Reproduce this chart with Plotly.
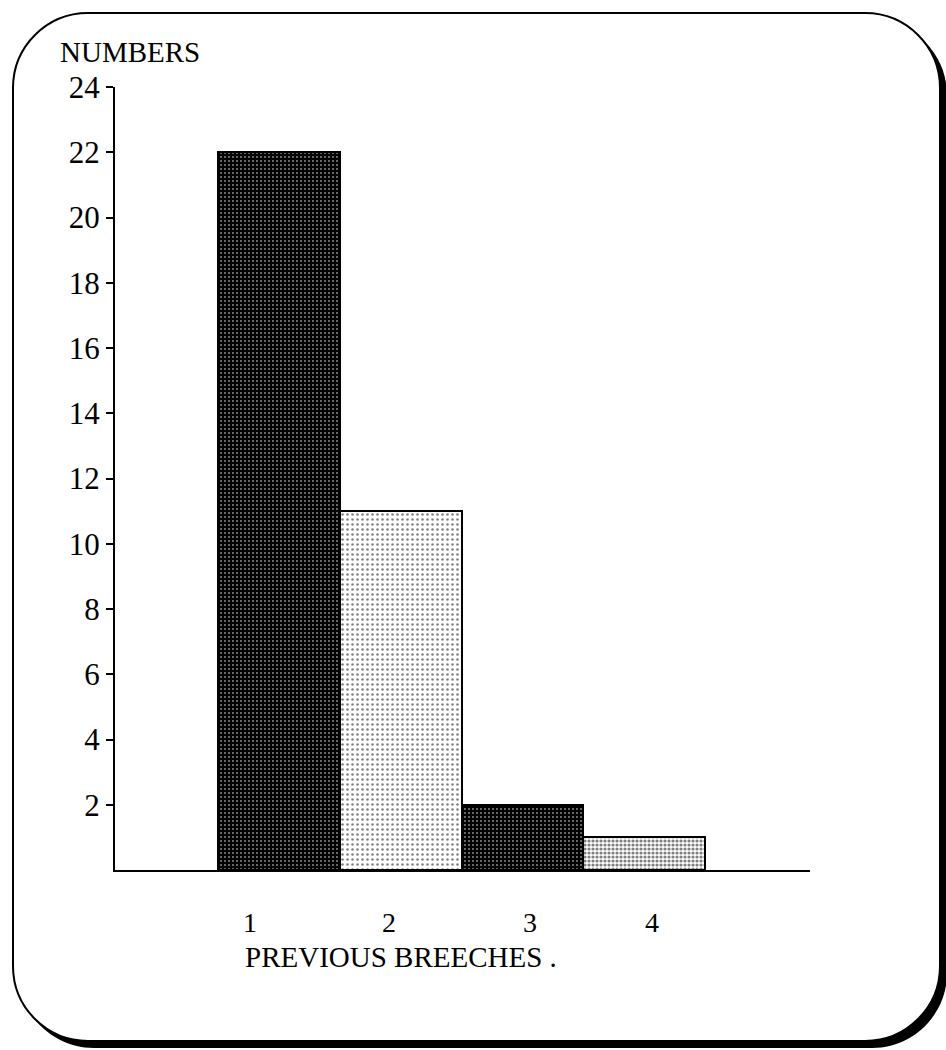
import plotly.graph_objects as go

# Data
categories = [1, 2, 3, 4]
numbers = [22, 11, 2, 1]
tick_values = [2, 4, 6, 8, 10, 12, 14, 16, 18, 20, 22, 24]
category_labels = ["1", "2", "3", "4"]
label_shift_px = [-29, -12, 8, 8]

W, H = 946, 1050
L, R, T, B = 115, 810, 87, 870  # plot area in pixels

def px(x):
    return (x - L) / (R - L)

def py(y):
    return (B - y) / (B - T)

def rounded_rect_path(x0, y0, x1, y1, r):
    k = 0.5523 * r
    pts = [
        ("M", [(x0 + r, y0)]),
        ("L", [(x1 - r, y0)]),
        ("C", [(x1 - r + k, y0), (x1, y0 + r - k), (x1, y0 + r)]),
        ("L", [(x1, y1 - r)]),
        ("C", [(x1, y1 - r + k), (x1 - r + k, y1), (x1 - r, y1)]),
        ("L", [(x0 + r, y1)]),
        ("C", [(x0 + r - k, y1), (x0, y1 - r + k), (x0, y1 - r)]),
        ("L", [(x0, y0 + r)]),
        ("C", [(x0, y0 + r - k), (x0 + r - k, y0), (x0 + r, y0)]),
    ]
    s = ""
    for cmd, ps in pts:
        s += cmd + " " + " ".join(f"{px(a):.5f},{py(b):.5f}" for a, b in ps) + " "
    return s + "Z"

# bar fill textures: dark, light, dark, medium
patterns = [
    dict(shape=".", bgcolor="black", fgcolor="white", size=4, solidity=0.22),
    dict(shape=".", bgcolor="white", fgcolor="black", size=5, solidity=0.2),
    dict(shape=".", bgcolor="black", fgcolor="white", size=4, solidity=0.22),
    dict(shape=".", bgcolor="white", fgcolor="black", size=4, solidity=0.5),
]
fills = ["#222", "#ddd", "#222", "#888"]

fig = go.Figure()
for c, v, p, f in zip(categories, numbers, patterns, fills):
    fig.add_trace(go.Bar(
        x=[c], y=[v], width=1,
        marker=dict(color=f, pattern=p, line=dict(color="black", width=2)),
        showlegend=False, hoverinfo="skip",
    ))

serif = "Liberation Serif"

shapes = [
    # drop shadow of the frame
    dict(type="path", xref="paper", yref="paper", layer="below",
         path=rounded_rect_path(19, 20, 947, 1048, 75),
         fillcolor="black", line=dict(width=0)),
    # frame
    dict(type="path", xref="paper", yref="paper", layer="below",
         path=rounded_rect_path(13, 13, 940, 1041, 75),
         fillcolor="white", line=dict(color="black", width=2)),
]

annotations = [
    dict(text="NUMBERS", xref="paper", yref="paper", x=px(58), y=py(52),
         xanchor="left", yanchor="middle", showarrow=False,
         font=dict(family=serif, size=29, color="black")),
    dict(text="PREVIOUS BREECHES .", xref="paper", yref="paper", x=px(243), y=py(957),
         xanchor="left", yanchor="middle", showarrow=False,
         font=dict(family=serif, size=29, color="black")),
]
for c, lab, sh in zip(categories, category_labels, label_shift_px):
    annotations.append(dict(
        text=lab, xref="x", yref="paper", x=c, xshift=sh, y=py(922),
        xanchor="center", yanchor="middle", showarrow=False,
        font=dict(family=serif, size=28, color="black")))

fig.update_layout(
    width=W, height=H,
    margin=dict(l=L, r=W - R, t=T, b=H - B, pad=0),
    paper_bgcolor="white", plot_bgcolor="rgba(0,0,0,0)",
    bargap=0, barmode="overlay",
    shapes=shapes, annotations=annotations,
    xaxis=dict(range=[-0.348, 5.363], showgrid=False, zeroline=False,
               showline=True, linecolor="black", linewidth=2,
               showticklabels=False, ticks=""),
    yaxis=dict(range=[0, 24], showgrid=False, zeroline=False,
               showline=True, linecolor="black", linewidth=2,
               tickvals=tick_values, ticks="outside", ticklen=7,
               tickwidth=1.5, tickcolor="black",
               tickfont=dict(family=serif, size=31, color="black")),
)

fig.write_html("out.html")
